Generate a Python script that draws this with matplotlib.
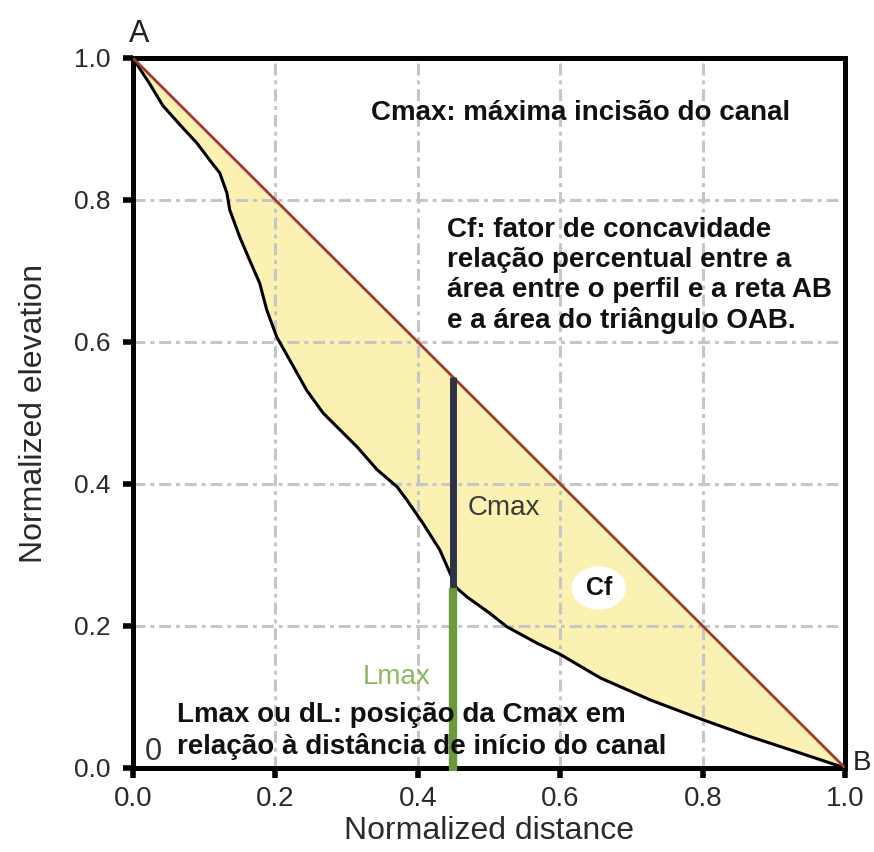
import matplotlib
matplotlib.use("Agg")
import matplotlib.pyplot as plt
from matplotlib.patches import Ellipse
import numpy as np

# Normalized longitudinal profile
profile_x = [0.0, 0.024, 0.042, 0.066, 0.090, 0.108, 0.122, 0.132, 0.136, 0.150,
             0.164, 0.178, 0.188, 0.202, 0.220, 0.244, 0.267, 0.291, 0.315, 0.343,
             0.371, 0.385, 0.407, 0.431, 0.445, 0.454, 0.469, 0.501, 0.525, 0.567,
             0.600, 0.656, 0.726, 0.800, 0.867, 0.937, 1.0]
profile_y = [1.0, 0.963, 0.933, 0.906, 0.880, 0.856, 0.838, 0.810, 0.786, 0.748,
             0.715, 0.683, 0.645, 0.607, 0.575, 0.532, 0.500, 0.476, 0.452, 0.420,
             0.396, 0.377, 0.345, 0.307, 0.275, 0.254, 0.241, 0.218, 0.199, 0.176,
             0.160, 0.127, 0.096, 0.068, 0.044, 0.021, 0.0]
line_ab_x = [0.0, 1.0]
line_ab_y = [1.0, 0.0]
cmax_x = 0.45
cmax_bottom = 0.254
cmax_top = 0.55
ticks = [0.0, 0.2, 0.4, 0.6, 0.8, 1.0]
tick_labels = ["0.0", "0.2", "0.4", "0.6", "0.8", "1.0"]

fig = plt.figure(figsize=(8.74, 8.52), dpi=100)
ax = fig.add_axes([0.152, 0.0986, 0.815, 0.8334])

FS = ['Liberation Sans', 'DejaVu Sans']

ab_interp = np.interp(profile_x, line_ab_x, line_ab_y)
ax.fill_between(profile_x, profile_y, ab_interp, color='#faf1b2', zorder=1, linewidth=0)

for t in ticks[1:-1]:
    ax.axvline(t, color='#c6c6c6', lw=2.2, ls='-.', dashes=(3.9, 1.6, 1.3, 1.6), zorder=2)
    ax.axhline(t, color='#c6c6c6', lw=2.2, ls='-.', dashes=(3.9, 1.6, 1.3, 1.6), zorder=2)

ax.plot(profile_x, profile_y, color='black', lw=2.2, zorder=4)
ax.plot(line_ab_x, line_ab_y, color='#9e3b2e', lw=2, zorder=4)
ax.plot([cmax_x, cmax_x], [cmax_bottom, cmax_top], color='#2e3446', lw=5, zorder=5, solid_capstyle='butt')
ax.plot([cmax_x, cmax_x], [-0.004, cmax_bottom], color='#6a9a3a', lw=6, zorder=5, solid_capstyle='butt', clip_on=False)

ax.set_xlim(0, 1)
ax.set_ylim(0, 1)
ax.set_xticks(ticks)
ax.set_yticks(ticks)
ax.set_xticklabels(tick_labels, family=FS, fontsize=20, color='#2a2a2a')
ax.set_yticklabels(tick_labels, family=FS, fontsize=19, color='#2a2a2a')
ax.tick_params(axis='y', direction='out', length=7, width=4, color='black', pad=9)
ax.tick_params(axis='x', direction='out', length=7, width=4, color='black', pad=6)
for s in ax.spines.values():
    s.set_linewidth(3.6)
    s.set_color('black')

ax.set_xlabel("Normalized distance", family=FS, fontsize=23, color='#2a2a2a', labelpad=3)
ax.set_ylabel("Normalized elevation", family=FS, fontsize=23, color='#2a2a2a', labelpad=18)

bold = dict(family=FS, fontsize=20, fontweight='bold', color='#111111', zorder=6)
ax.text(0.334, 0.9225, "Cmax: máxima incisão do canal", va='center', ha='left', **bold)
ax.text(0.441, 0.6937, "Cf: fator de concavidade\nrelação percentual entre a\nárea entre o perfil e a reta AB\ne a área do triângulo OAB.",
        va='center', ha='left', linespacing=1.2, **bold)
ax.text(0.062, 0.052, "Lmax ou dL: posição da Cmax em\nrelação à distância de início do canal",
        va='center', ha='left', linespacing=1.2, **bold)

ax.text(0.470, 0.366, "Cmax", family=FS, fontsize=20, color='#3a3a3a', va='center', ha='left', zorder=6)
ax.text(0.323, 0.128, "Lmax", family=FS, fontsize=20, color='#8cb860', va='center', ha='left', zorder=6)

ax.add_patch(Ellipse((0.654, 0.2535), 0.076, 0.061, fc='white', ec='none', zorder=6))
ax.text(0.654, 0.2535, "Cf", family=FS, fontsize=18, fontweight='bold', color='#111111', va='center', ha='center', zorder=7)

ax.text(0.017, 0.022, "0", family=FS, fontsize=22, color='#333333', va='center', ha='left', zorder=6)
ax.text(-0.005, 1.0225, "A", family=FS, fontsize=22, color='#222222', va='baseline', ha='left', zorder=6, clip_on=False)
ax.text(1.011, -0.003, "B", family=FS, fontsize=20, color='#222222', va='baseline', ha='left', zorder=6, clip_on=False)

fig.savefig("out.png", dpi=100, facecolor='white')
